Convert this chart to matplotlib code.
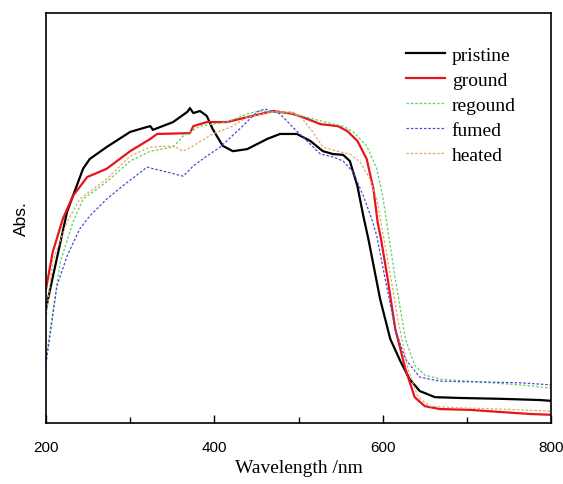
import numpy as np
import matplotlib
matplotlib.use("Agg")
import matplotlib.pyplot as plt
from matplotlib.ticker import MultipleLocator

# wavelength (nm) / absorbance (a.u.)
wl_pristine = [200, 205, 225, 244, 252, 272, 300, 320, 324, 327, 351, 368, 371, 375, 383, 391, 398,
               410, 422, 439, 463, 478, 498, 514, 529, 541, 553, 561, 570, 577, 583, 597, 609, 621,
               632, 644, 662, 692, 739, 787, 800]
abs_pristine = [0.278, 0.327, 0.515, 0.620, 0.644, 0.673, 0.710, 0.722, 0.724, 0.715, 0.734, 0.759,
                0.768, 0.756, 0.761, 0.749, 0.717, 0.676, 0.663, 0.668, 0.693, 0.705, 0.705, 0.688,
                0.663, 0.656, 0.654, 0.639, 0.578, 0.505, 0.449, 0.302, 0.205, 0.151, 0.107, 0.078,
                0.063, 0.061, 0.059, 0.056, 0.054]

wl_ground = [200, 208, 220, 232, 249, 272, 300, 324, 332, 371, 375, 391, 415, 439, 470, 493, 505,
             526, 547, 558, 570, 581, 589, 594, 598, 606, 615, 627, 638, 650, 668, 704, 739, 775, 800]
abs_ground = [0.327, 0.417, 0.498, 0.554, 0.600, 0.620, 0.663, 0.693, 0.705, 0.707, 0.724, 0.734,
              0.734, 0.746, 0.761, 0.754, 0.746, 0.729, 0.724, 0.712, 0.688, 0.644, 0.571, 0.490,
              0.449, 0.351, 0.229, 0.132, 0.063, 0.041, 0.034, 0.032, 0.027, 0.022, 0.020]

wl_regound = [200, 205, 217, 232, 244, 272, 300, 324, 351, 363, 383, 415, 439, 454, 490, 526, 553,
              565, 581, 593, 600, 606, 615, 627, 638, 650, 668, 716, 763, 800]
abs_regound = [0.156, 0.229, 0.393, 0.490, 0.546, 0.588, 0.639, 0.663, 0.673, 0.700, 0.724, 0.734,
               0.754, 0.761, 0.756, 0.737, 0.724, 0.710, 0.676, 0.620, 0.554, 0.473, 0.351, 0.205,
               0.141, 0.117, 0.107, 0.100, 0.093, 0.085]

wl_fumed = [200, 213, 225, 240, 252, 272, 291, 320, 344, 363, 375, 391, 407, 430, 451, 460, 478,
            493, 514, 526, 541, 553, 565, 577, 587, 593, 603, 615, 627, 644, 668, 716, 763, 800]
abs_fumed = [0.144, 0.334, 0.407, 0.473, 0.505, 0.546, 0.578, 0.624, 0.612, 0.602, 0.627, 0.651,
             0.673, 0.717, 0.759, 0.766, 0.754, 0.722, 0.680, 0.656, 0.649, 0.639, 0.612, 0.554,
             0.498, 0.456, 0.351, 0.229, 0.156, 0.112, 0.102, 0.100, 0.098, 0.093]

wl_heated = [200, 208, 225, 240, 272, 300, 324, 351, 363, 375, 398, 422, 439, 470, 493, 505, 517,
             529, 546, 561, 573, 585, 593, 600, 609, 618, 630, 642, 656, 692, 739, 800]
abs_heated = [0.254, 0.395, 0.490, 0.546, 0.595, 0.651, 0.673, 0.676, 0.663, 0.676, 0.705, 0.724,
              0.746, 0.759, 0.759, 0.741, 0.710, 0.673, 0.663, 0.656, 0.637, 0.595, 0.546, 0.466,
              0.363, 0.254, 0.132, 0.063, 0.041, 0.037, 0.034, 0.029]

fig = plt.figure(figsize=(5.63, 4.85), dpi=100)
ax = fig.add_axes([0.0817, 0.1258, 0.897, 0.8453])

ax.plot(wl_pristine, abs_pristine, color='black', lw=1.6, label='pristine')
ax.plot(wl_ground, abs_ground, color='#e8141b', lw=1.6, label='ground')
ax.plot(wl_regound, abs_regound, color='#5fd35f', lw=0.9, ls=(0, (2, 1.5)), label='regound')
ax.plot(wl_fumed, abs_fumed, color='#4a4ad0', lw=0.9, ls=(0, (2, 1.5)), label='fumed')
ax.plot(wl_heated, abs_heated, color='#e0a868', lw=0.9, ls=(0, (2, 1.5)), label='heated')

ax.set_xlim(200, 800)
ax.set_ylim(0, 1.0)
ax.xaxis.set_major_locator(MultipleLocator(200))
ax.xaxis.set_minor_locator(MultipleLocator(100))
ax.tick_params(axis='x', which='major', direction='in', length=6, width=1, labelsize=11, pad=12)
ax.tick_params(axis='x', which='minor', direction='in', length=4, width=1)
ax.set_yticks([])
for lab in ax.get_xticklabels():
    lab.set_family('Liberation Sans')
for s in ax.spines.values():
    s.set_linewidth(1.2)

ax.set_xlabel('Wavelength /nm', family='Liberation Serif', fontsize=14, labelpad=4)
ax.set_ylabel('Abs.', family='Liberation Sans', fontsize=12.5, labelpad=12)

ax.legend(loc='upper left', frameon=False, prop={'family': 'Liberation Serif', 'size': 14},
          handlelength=2.0, handletextpad=0.36, labelspacing=0.38,
          borderpad=0, borderaxespad=0,
          bbox_to_anchor=(406 / 563, 1 - 47 / 485), bbox_transform=fig.transFigure)

fig.savefig('out.png', dpi=100)
